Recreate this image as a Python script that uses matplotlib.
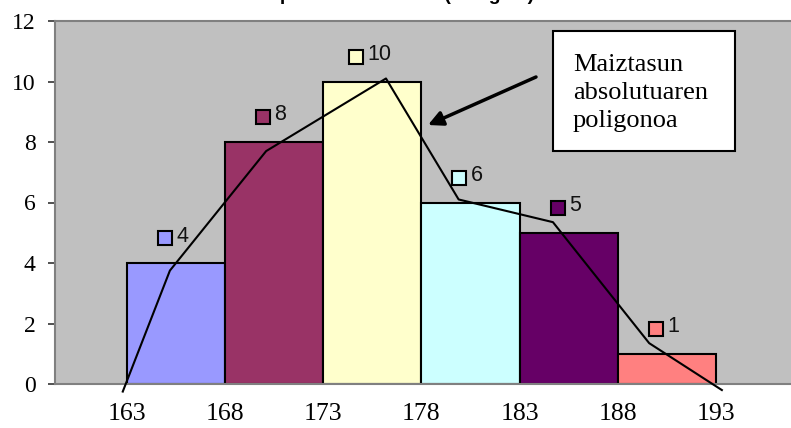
import matplotlib
matplotlib.use('Agg')
import matplotlib.pyplot as plt
from matplotlib.patches import Rectangle
from matplotlib.transforms import offset_copy

# height classes (cm) and absolute frequencies
edges = [163, 168, 173, 178, 183, 188, 193]
freqs = [4, 8, 10, 6, 5, 1]
colors = ['#9999FF', '#993366', '#FFFFCC', '#CCFFFF', '#660066', '#FF8080']

# the polygon as it is drawn over the bars
poly_x = [162.8, 165.2, 170.1, 176.2, 179.9, 184.7, 189.6, 193.3]
poly_y = [-0.25, 3.75, 7.7, 10.1, 6.1, 5.35, 1.35, -0.2]

title = 'Espainiako altuerak (ikasgela)'
note = 'Maiztasun\nabsolutuaren\npoligonoa'

SERIF = 'Liberation Serif'
SANS = 'Liberation Sans'


def _draw_bars(ax):
    '''Histogram bars with their data labels.'''
    fig = ax.figure
    for i, f in enumerate(freqs):
        x0, x1 = edges[i], edges[i + 1]
        ax.bar(x0, f, width=x1 - x0, align='edge', color=colors[i],
               edgecolor='black', linewidth=1.5, zorder=2)

        # legend key square + value, centred above the bar
        cx = (x0 + x1) / 2.0
        lab = str(f)
        total = 15 + 5 + 11 * len(lab)
        left = -total / 2.0 - 3
        tr_m = offset_copy(ax.transData, fig, x=left + 7.5, y=25, units='dots')
        ax.plot(cx, f, marker='s', ms=10.5, mfc=colors[i], mec='black',
                mew=1.5, transform=tr_m, clip_on=False, zorder=4)
        tr_t = offset_copy(ax.transData, fig, x=left + 19, y=27, units='dots')
        ax.text(cx, f, lab, transform=tr_t, ha='left', va='center',
                fontsize=15.5, family=SANS, color='#111111', zorder=4)


def main():
    '''main method.'''
    fig = plt.figure(figsize=(7.91, 4.28), dpi=100)
    ax = fig.add_axes([55 / 791.0, 44 / 428.0, 1 - 55 / 791.0, 363 / 428.0])
    ax.set_facecolor('#C0C0C0')

    _draw_bars(ax)
    ax.plot(poly_x, poly_y, color='black', lw=1.5, clip_on=False, zorder=3)

    ax.set_xlim(159.35, 196.82)
    ax.set_ylim(0, 12)
    ax.set_xticks(edges)
    ax.set_xticklabels([str(e) for e in edges], family=SERIF, fontsize=18.5)
    ax.set_yticks(range(0, 13, 2))
    ax.set_yticklabels([str(v) for v in range(0, 13, 2)], family=SERIF,
                       fontsize=17)
    ax.tick_params(axis='x', length=0, pad=14)
    ax.tick_params(axis='y', length=5, width=1.2, color='#333333', pad=9)

    for side in ['top', 'left', 'bottom']:
        ax.spines[side].set_color('#808080')
        ax.spines[side].set_linewidth(1.5)
    ax.spines['right'].set_visible(False)

    # note box and arrow
    fig.add_artist(Rectangle((553 / 791.0, 1 - 151 / 428.0), 182 / 791.0,
                             120 / 428.0, transform=fig.transFigure,
                             facecolor='white', edgecolor='black', lw=1.5,
                             zorder=5))
    fig.text(573 / 791.0, 1 - 127 / 428.0, note, ha='left', va='baseline',
             family=SERIF, fontsize=19, linespacing=1.36, zorder=6)
    ax.annotate('', xy=(428 / 791.0, 1 - 125 / 428.0),
                xycoords='figure fraction',
                xytext=(536 / 791.0, 1 - 77 / 428.0),
                textcoords='figure fraction',
                arrowprops=dict(arrowstyle='-|>', color='black', lw=2.5,
                                mutation_scale=22, shrinkA=0, shrinkB=0),
                zorder=6)

    # title: only its lower part fits in the picture
    fig.text(0.5, 1.0, title, ha='center', va='baseline', fontsize=14,
             fontweight='bold', family=SANS)

    fig.savefig('out.png', dpi=100)


if __name__ == '__main__':
    main()
